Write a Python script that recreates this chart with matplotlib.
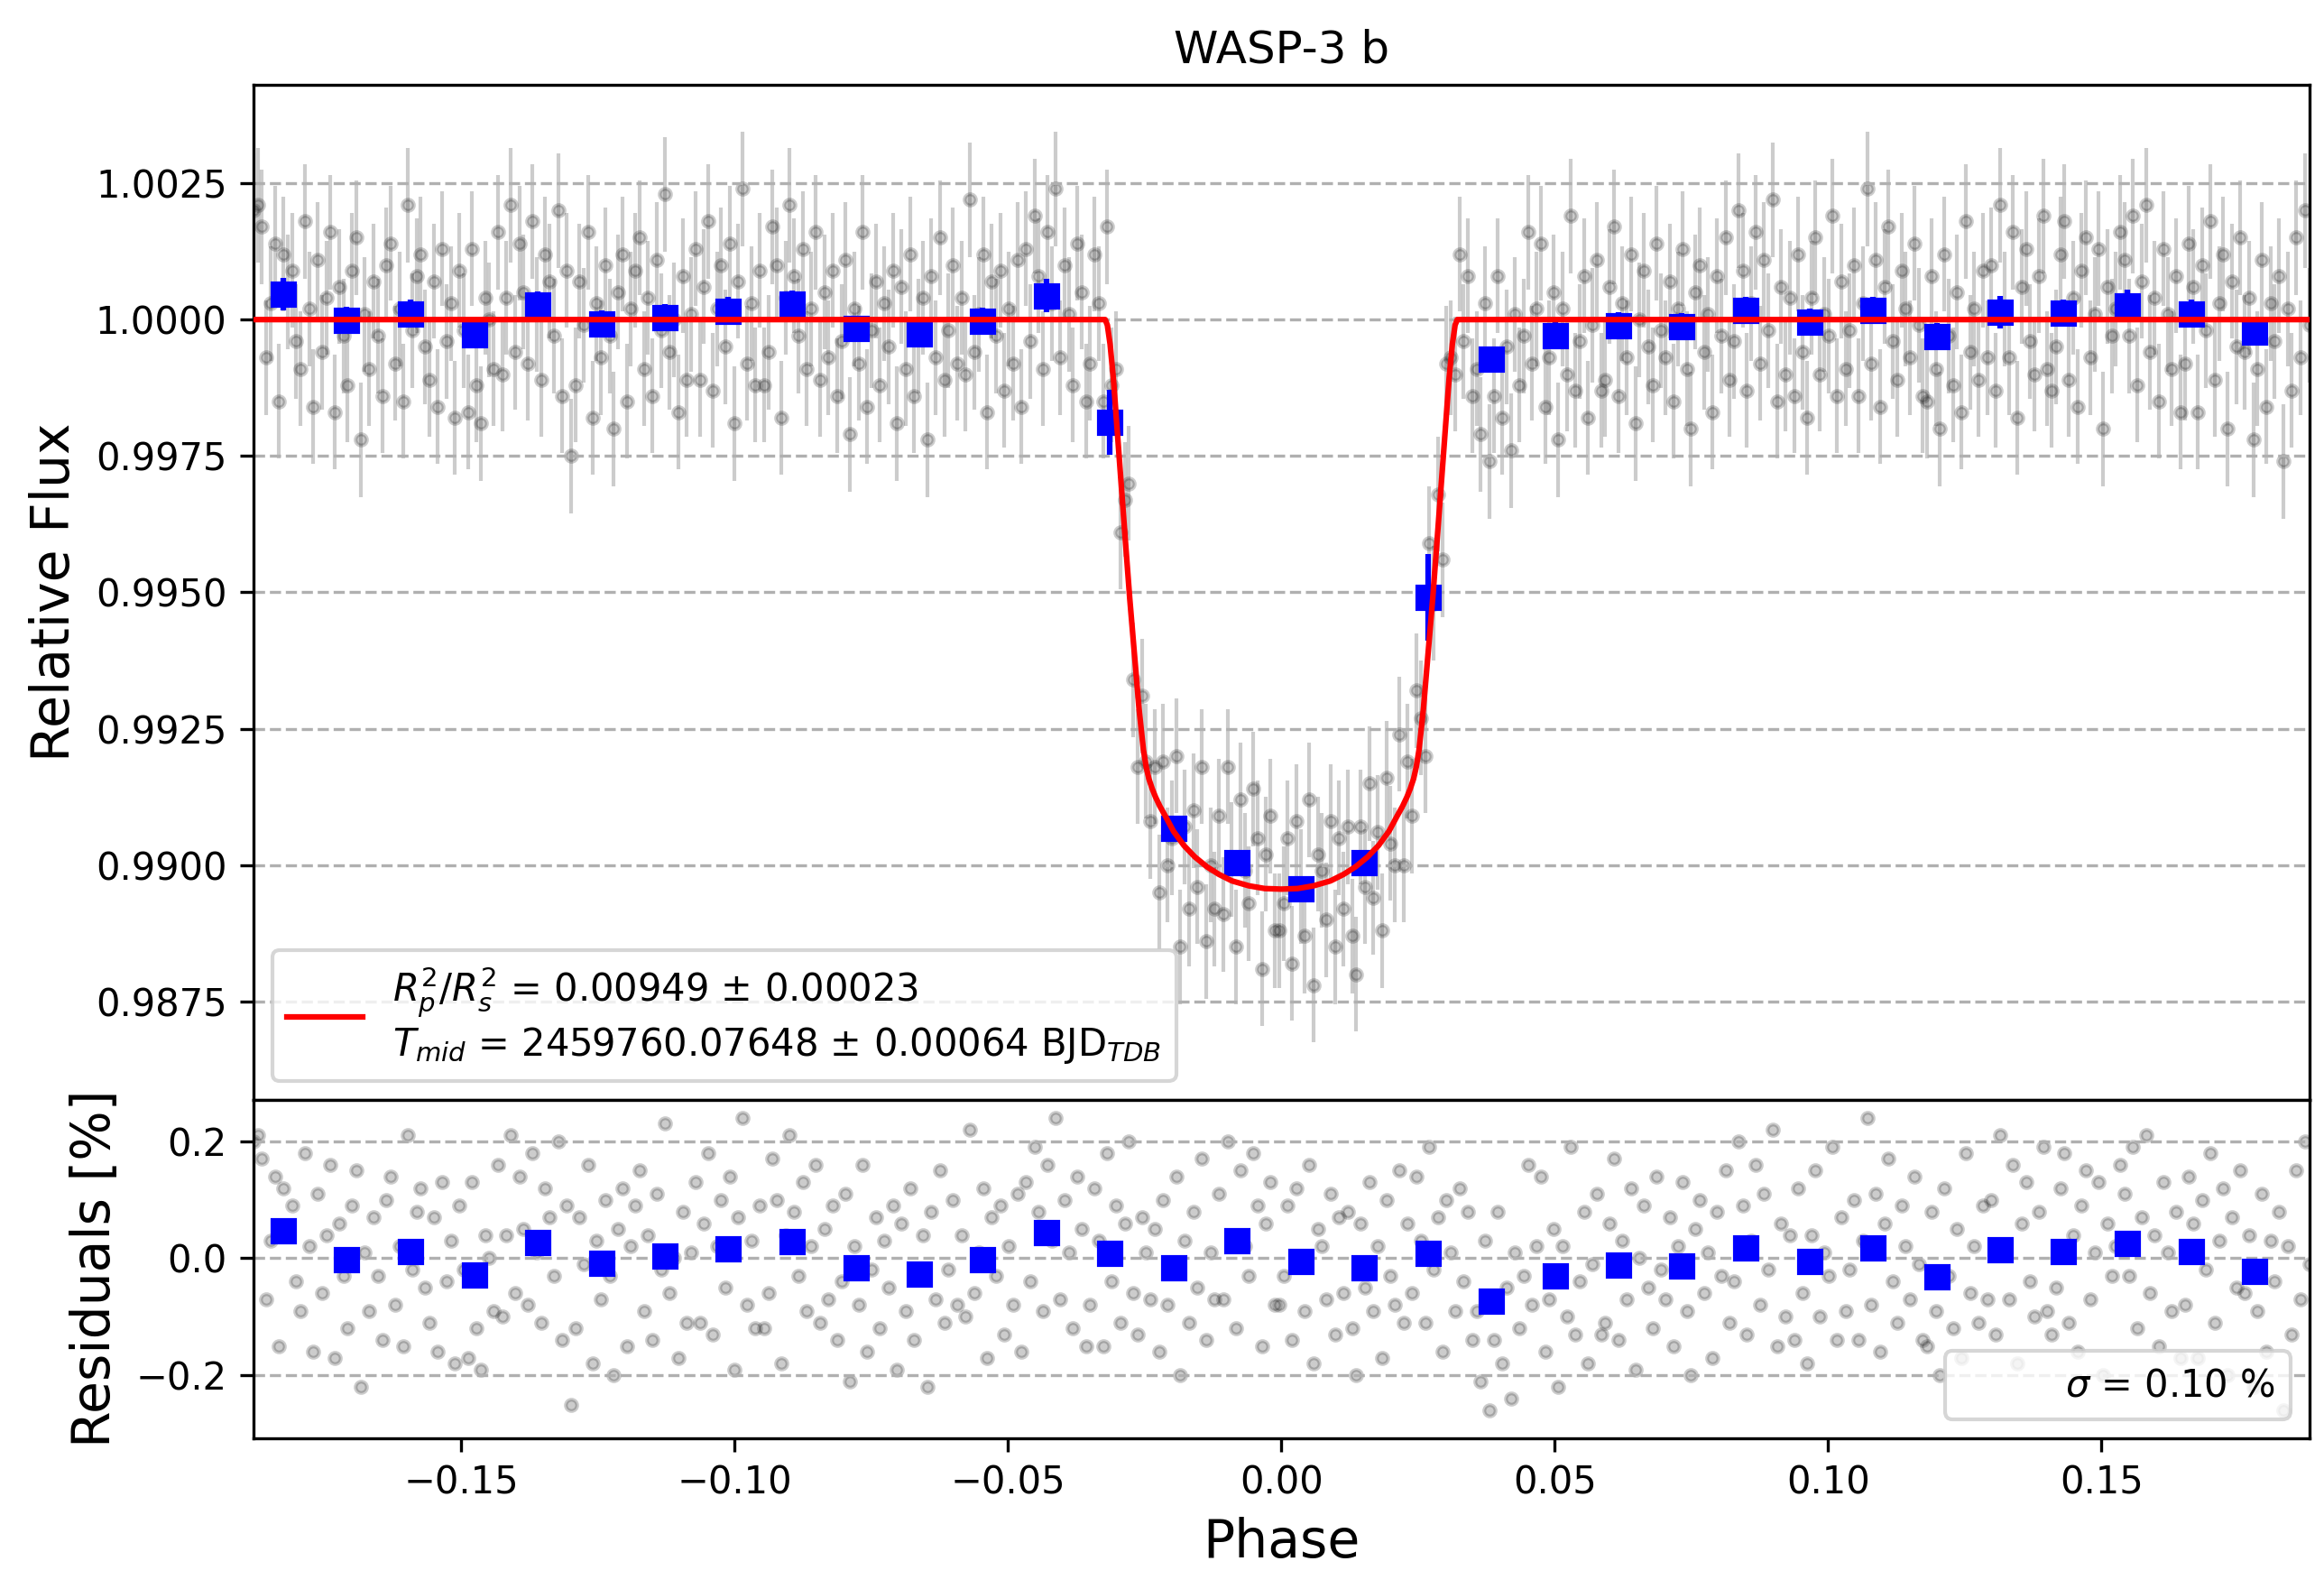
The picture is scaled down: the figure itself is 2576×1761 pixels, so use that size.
import numpy as np
import matplotlib.pyplot as plt
from matplotlib.ticker import MultipleLocator

# unbinned light curve: evenly spaced in phase, one error for all points
n_points = 480
phase_min, phase_max = -0.188, 0.188
flux_err = 0.00105

# residuals in units of 0.01 % (= 1e-4), one row of 15 points per bin
resid_rows = [
    [20, 21, 17, -7, 3, 14, -15, 12, 5, 9, -4, -9, 18, 2, -16],
    [11, -6, 4, 16, -17, 6, -3, -12, 9, 15, -22, 1, -9, 7, -3],
    [-14, 10, 14, -8, 2, -15, 21, -2, 8, 12, -5, -11, 7, -16, 13],
    [-4, 3, -18, 9, -2, -17, 13, -12, -19, 4, 0, -9, 16, -10, 4],
    [21, -6, 14, 5, -8, 18, 1, -11, 12, 7, -3, 20, -14, 9, -25],
    [-12, 7, -1, 16, -18, 3, -7, 10, -3, -20, 5, 12, -15, 2, 9],
    [15, -9, 4, -14, 11, -2, 23, -6, 0, -17, 8, -11, 1, 13, -11],
    [6, 18, -13, 2, 10, -5, 14, -19, 7, 24, -8, 3, -12, 9, -12],
    [-6, 17, 10, -18, 4, 21, 8, -3, 13, -9, 2, 16, -11, 5, -7],
    [9, -14, -4, 11, -21, 2, -8, 16, -16, -2, 7, -12, 3, -5, 9],
    [-19, 6, -9, 12, -14, -3, 4, -22, 8, -7, 15, -11, -2, 10, -8],
    [4, -10, 22, -6, 1, 12, -17, 7, -3, 9, -13, 2, -8, 11, -16],
    [13, -4, 19, 8, -9, 16, 3, 24, -7, 10, 1, -12, 14, 5, -15],
    [-8, 12, 3, -15, 18, -4, 9, -11, 6, 20, -6, -13, 7, 1, -7],
    [5, -16, 10, -8, -2, 14, -20, 3, -11, 8, -5, 17, -14, 1, -7],
    [11, -7, 20, 4, -12, 15, 2, -3, 18, 9, -15, 6, 13, -8, -8],
    [-3, 9, -14, 12, 0, -9, 16, -18, 5, 2, -7, 11, -13, 7, -6],
    [8, -12, -20, 6, -5, 13, -9, 2, -17, 10, -3, -8, 15, -11, 6],
    [-6, 14, 3, -11, 19, -2, 7, -16, 10, 1, -9, 12, -4, 8, -14],
    [-9, -21, 3, -26, -14, 8, -18, -5, -24, 1, -12, -3, 16, -8, 2],
    [14, -16, -7, 5, -22, 2, -10, 19, -13, -4, 8, -18, -1, 11, -13],
    [-11, 6, 17, -14, 3, -7, 12, -19, 0, 9, -5, -12, 14, -2, -7],
    [7, -15, 2, 13, -9, -20, 5, 10, -6, 1, -17, 8, -3, 15, -11],
    [-4, 20, 9, -13, 3, 16, -8, 11, -2, 22, -15, 6, -10, 4, -14],
    [12, -6, -18, 4, 15, -10, 1, -3, 19, -14, 7, -9, -2, 10, -14],
    [3, 24, -8, 11, -16, 6, 17, -4, -11, 9, 2, -7, 14, -1, -14],
    [-15, 8, -9, -20, 12, -3, -12, 5, -17, 18, -6, 2, -11, 9, -7],
    [10, -13, 21, 2, -7, 16, -18, 6, 13, -4, -10, 8, 19, -9, -13],
    [-5, 12, 18, -11, 4, -16, 9, 15, -7, 1, 13, -20, 6, -3, 2],
    [16, 11, -3, 19, -12, 7, 21, -6, 4, -15, 13, 1, -9, 8, -17],
    [-8, 14, 6, -17, 10, -2, 18, -11, 3, 12, -20, 7, -5, 15, -6],
    [4, -22, -9, 11, -16, 3, -4, 8, -26, 2, -13, 15, -7, 20, -1],
]

# flux (units of 1e-4 from 1) for the rows that cross the transit (rows 13-18);
# outside the transit the flux points sit at the residual values
transit_rows = [
    [-8, 12, 3, -15, 17, -12, -9, -39, -33, -30, -66, -82, -69, -81, -92],
    [-82, -105, -81, -100, -95, -80, -115, -93, -108, -90, -104, -82, -114, -100, -108],
    [-91, -109, -82, -99, -115, -88, -101, -107, -86, -95, -119, -98, -91, -112, -112],
    [-107, -95, -118, -92, -104, -113, -88, -122, -98, -101, -110, -92, -115, -95, -108],
    [-93, -113, -120, -93, -104, -85, -106, -94, -112, -84, -96, -100, -76, -100, -81],
    [-91, -68, -73, -80, -41, -52, -32, -44, -8, -7, -10, 12, -4, 8, -14],
]

# binned points
bin_phase = [-0.1825, -0.1709, -0.1592, -0.1476, -0.1360, -0.1243, -0.1127, -0.1011,
             -0.0895, -0.0778, -0.0662, -0.0546, -0.0429, -0.0313, -0.0197, -0.0081,
             0.0036, 0.0152, 0.0268, 0.0384, 0.0501, 0.0617, 0.0733, 0.0850,
             0.0966, 0.1082, 0.1199, 0.1315, 0.1431, 0.1547, 0.1664, 0.1780]
bin_flux = [1.00047, 0.99998, 1.00011, 0.99972, 1.00027, 0.99992, 1.00003, 1.00016,
            1.00028, 0.99983, 0.99973, 0.99997, 1.00044, 0.99812, 0.99068, 0.99004,
            0.98956, 0.99004, 0.99491, 0.99928, 0.99970, 0.99989, 0.99987, 1.00017,
            0.99995, 1.00017, 0.99969, 1.00014, 1.00012, 1.00025, 1.00011, 0.99977]
bin_err = [0.0003, 0.00025, 0.00025, 0.00025, 0.00025, 0.00025, 0.00025, 0.00025,
           0.00025, 0.0002, 0.0002, 0.00025, 0.0003, 0.0006, 0.0002, 0.0002,
           0.0002, 0.0002, 0.0008, 0.0002, 0.00025, 0.00025, 0.00025, 0.00025,
           0.00025, 0.00025, 0.00025, 0.0003, 0.00025, 0.0003, 0.00025, 0.00025]
bin_resid = [0.047, -0.002, 0.011, -0.028, 0.027, -0.008, 0.003, 0.016,
             0.028, -0.017, -0.027, -0.003, 0.044, 0.008, -0.017, 0.030,
             -0.005, -0.017, 0.008, -0.073, -0.030, -0.011, -0.013, 0.017,
             -0.005, 0.017, -0.031, 0.014, 0.012, 0.025, 0.011, -0.023]

# transit model
model_phase = [-0.188, -0.0322, -0.0318, -0.0313, -0.0307, -0.0296, -0.0285, -0.0277,
               -0.0268, -0.0260, -0.0252, -0.0247, -0.0242, -0.0236, -0.0230, -0.0222,
               -0.0212, -0.0197, -0.0178, -0.0158, -0.0136, -0.0114, -0.0090, -0.0059,
               -0.0030, 0.0,
               0.0030, 0.0059, 0.0090, 0.0114, 0.0136, 0.0158, 0.0178, 0.0197,
               0.0212, 0.0222, 0.0230, 0.0236, 0.0242, 0.0247, 0.0252, 0.0260,
               0.0268, 0.0277, 0.0285, 0.0296, 0.0307, 0.0313, 0.0318, 0.0322, 0.188]
model_flux = [1.0, 1.0, 0.99990, 0.99955, 0.99892, 0.99743, 0.99594, 0.99488,
              0.99381, 0.99286, 0.99211, 0.99180, 0.99158, 0.99140, 0.99125, 0.99108,
              0.99090, 0.99062, 0.99036, 0.99015, 0.98997, 0.98983, 0.98971, 0.98962,
              0.98957, 0.98956,
              0.98957, 0.98962, 0.98971, 0.98983, 0.98997, 0.99015, 0.99036, 0.99062,
              0.99090, 0.99108, 0.99125, 0.99140, 0.99158, 0.99180, 0.99211, 0.99286,
              0.99381, 0.99488, 0.99594, 0.99743, 0.99892, 0.99955, 0.99990, 1.0, 1.0]

fit_label = ('$R_{p}^{2}/R_{s}^{2}$ = 0.00949 \u00b1 0.00023\n'
             '$T_{mid}$ = 2459760.07648 \u00b1 0.00064 BJD$_{TDB}$')
sigma_label = r'$\sigma$ = 0.10 %'

phase = np.linspace(phase_min, phase_max, n_points)
resid = np.array(resid_rows).ravel() * 1e-2
flux_rows = resid_rows[:13] + transit_rows + resid_rows[19:]
flux = 1 + np.array(flux_rows).ravel() * 1e-4

fig = plt.figure(figsize=(2576 / 300, 1761 / 300), dpi=300)
gs = fig.add_gridspec(2, 1, height_ratios=[3, 1], hspace=0,
                      left=0.109, right=0.9936, top=0.9465, bottom=0.0951)
ax1 = fig.add_subplot(gs[0])
ax2 = fig.add_subplot(gs[1], sharex=ax1)

ax1.errorbar(phase, flux, yerr=flux_err, fmt='o', color='black', ms=3,
             alpha=0.2, elinewidth=1, zorder=1)
ax1.errorbar(bin_phase, bin_flux, yerr=bin_err, fmt='s', color='blue', ms=6, zorder=2)
ax1.plot(model_phase, model_flux, color='red', lw=1.5, zorder=3, label=fit_label)
ax1.set_xlim(phase_min, phase_max)
ax1.set_ylim(0.9857, 1.0043)
ax1.yaxis.set_major_locator(MultipleLocator(0.0025))
ax1.grid(axis='y', ls='--')
ax1.set_ylabel('Relative Flux', fontsize=14)
ax1.set_title('WASP-3 b')
ax1.tick_params(labelbottom=False)
ax1.legend(loc='lower left')

ax2.plot(phase, resid, 'o', color='black', ms=3, alpha=0.2, zorder=1)
ax2.plot(bin_phase, bin_resid, 's', color='blue', ms=6, zorder=2)
ax2.plot([], [], ' ', label=sigma_label)
ax2.set_ylim(-0.307, 0.271)
ax2.yaxis.set_major_locator(MultipleLocator(0.2))
ax2.grid(axis='y', ls='--')
ax2.set_ylabel('Residuals [%]', fontsize=14)
ax2.set_xlabel('Phase', fontsize=14)
ax2.legend(loc='lower right')

fig.savefig('out.png', dpi=300)
